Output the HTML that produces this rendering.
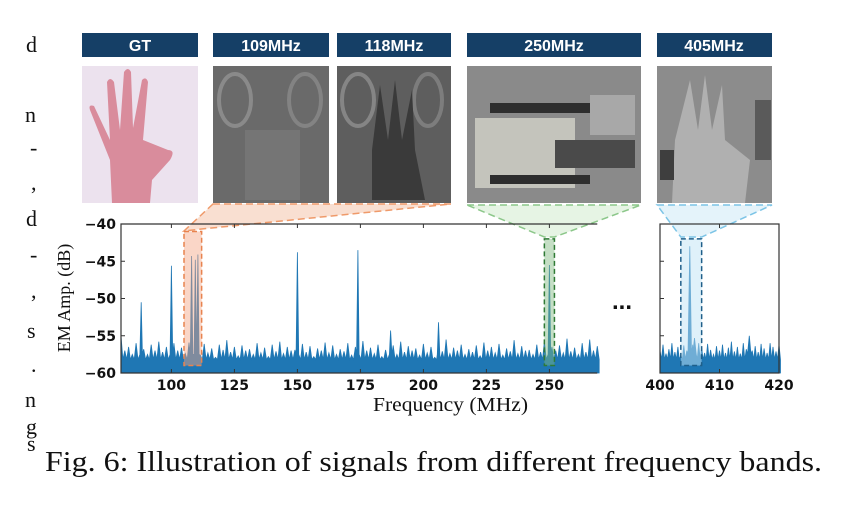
<!DOCTYPE html>
<html><head><meta charset="utf-8"><style>
body{margin:0;background:#fff;}
svg{display:block;}
.tk{font-family:"DejaVu Sans","Liberation Sans",sans-serif;font-weight:bold;font-size:14px;fill:#111;}
.sf{font-family:"Liberation Serif",serif;fill:#111;}
.hd{font-family:"Liberation Sans",sans-serif;font-weight:bold;font-size:16px;fill:#fff;}
</style></head><body>
<svg id="fig" width="852" height="509" viewBox="0 0 852 509" xmlns="http://www.w3.org/2000/svg">
<g class="sf" font-size="22">
<text x="26" y="52">d</text><text x="25" y="122">n</text><text x="30" y="155">-</text><text x="31" y="190">,</text>
<text x="26" y="226">d</text><text x="30" y="262">-</text><text x="31" y="298">,</text><text x="27" y="338">s</text>
<text x="31" y="372">.</text><text x="25" y="407">n</text><text x="26" y="434">g</text><text x="27" y="451">s</text>
</g>
<g>
<rect x="82" y="33" width="116" height="24" fill="#153f66"/><text class="hd" x="140" y="51" text-anchor="middle">GT</text>
<rect x="213" y="33" width="116" height="24" fill="#153f66"/><text class="hd" x="271" y="51" text-anchor="middle">109MHz</text>
<rect x="337" y="33" width="114" height="24" fill="#153f66"/><text class="hd" x="394" y="51" text-anchor="middle">118MHz</text>
<rect x="467" y="33" width="174" height="24" fill="#153f66"/><text class="hd" x="554" y="51" text-anchor="middle">250MHz</text>
<rect x="657" y="33" width="115" height="24" fill="#153f66"/><text class="hd" x="714" y="51" text-anchor="middle">405MHz</text>
</g>
<g>
<rect x="82" y="66" width="116" height="137" fill="#ece2ee"/>
<path d="M112 203 L110 160 L90 110 Q88 104 94 106 L110 140 L107 82 Q110 76 114 82 L120 130 L124 72 Q128 66 131 72 L133 128 L142 80 Q146 76 148 82 L143 140 L168 150 Q176 150 170 160 L152 180 L150 203Z" fill="#d98c9c"/>
</g>
<g>
<rect x="213" y="66" width="116" height="137" fill="#6a6a6a"/>
<ellipse cx="235" cy="100" rx="16" ry="26" fill="none" stroke="#8a8a8a" stroke-width="4"/>
<ellipse cx="305" cy="100" rx="16" ry="26" fill="none" stroke="#838383" stroke-width="4"/>
<rect x="245" y="130" width="55" height="70" fill="#757575"/>
</g>
<g>
<rect x="337" y="66" width="114" height="137" fill="#5e5e5e"/>
<ellipse cx="358" cy="100" rx="16" ry="26" fill="none" stroke="#858585" stroke-width="4"/>
<ellipse cx="428" cy="100" rx="14" ry="26" fill="none" stroke="#7d7d7d" stroke-width="4"/>
<path d="M372 200 L372 150 L380 85 L388 140 L395 80 L402 140 L412 90 L415 150 L425 200Z" fill="#3a3a3a"/>
</g>
<g>
<rect x="467" y="66" width="174" height="137" fill="#8a8a8a"/>
<rect x="475" y="118" width="100" height="70" fill="#c4c4bc"/>
<rect x="490" y="103" width="100" height="10" fill="#2e2e2e"/>
<rect x="490" y="175" width="100" height="9" fill="#2e2e2e"/>
<rect x="555" y="140" width="80" height="28" fill="#4a4a4a"/>
<rect x="590" y="95" width="45" height="40" fill="#a8a8a8"/>
</g>
<g>
<rect x="657" y="66" width="115" height="137" fill="#8c8c8c"/>
<path d="M672 203 L675 140 L690 80 L698 130 L705 75 L712 130 L722 85 L725 140 L750 160 L745 203Z" fill="#b0b0b0"/>
<rect x="660" y="150" width="14" height="30" fill="#3e3e3e"/>
<rect x="755" y="100" width="16" height="60" fill="#5a5a5a"/>
</g>
<g id="plot"></g>
<text class="sf" font-size="18" transform="translate(70,298) rotate(-90)" text-anchor="middle">EM Amp. (dB)</text>
<text class="sf" font-size="20" x="373" y="411" textLength="155" lengthAdjust="spacingAndGlyphs">Frequency (MHz)</text>
<text x="612" y="309" font-family="Liberation Sans" font-weight="bold" font-size="24" fill="#111">...</text>
<text class="sf" font-size="29" x="45" y="471" textLength="777" lengthAdjust="spacingAndGlyphs">Fig. 6: Illustration of signals from different frequency bands.</text>
</svg>
<script>
const noise1=[-55,-57,-56.5,-57.5,-56,-57,-56.8,-57.5,-56.2,-57,-55.8,-57.2,-56.5,-57.8,-56,-57,-56.6,-57.4,-55.9,-57.1,
-56.4,-57.6,-56.1,-57.3,-56.7,-57.9,-56.2,-56.9,-55.6,-57.2,-56.5,-57.7,-56.3,-57,-56.8,-57.5,-56,-57.3,-56.6,-57.8,
-56.2,-57.1,-55.8,-57.4,-56.5,-57,-56.9,-57.6,-56.1,-57.2,-56.4,-57.8,-56.7,-57,-55.9,-57.3,-56.3,-57.5,-56.8,-57.1,
-56,-57.6,-56.5,-57.2,-55.7,-57,-56.6,-57.4,-56.2,-57.8,-56.9,-57.1,-56.3,-57.5,-55.8,-57.2,-56.4,-57,-56.7,-57.6,
-56.1,-57.3,-56.5,-57.9,-56,-57.1,-55.5,-57.4,-56.6,-57,-56.2,-57.5,-56.8,-57.2,-56.3,-57.7,-55.9,-57,-56.5,-57.3,
-56.1,-57.6,-56.7,-57.1,-55.6,-57.4,-56.4,-57,-56.9,-57.5,-56.2,-57.2,-55.8,-57.6,-56.5,-57,-56.3,-57.3,-55.4,-57.1,
-56.6,-57.5,-56,-57.2,-55.5,-57,-56.4];
const peakFreq1=[88,100,108,109.5,110.5,150,174,187,206,250];
const peakAmp1=[-50.5,-45.6,-44.3,-44.8,-44.1,-43.8,-43.5,-54.3,-53.2,-45.5];
const noise2=[-57,-56.2,-57.4,-56.8,-56,-57.2,-56.5,-57.6,-56.3,-57,-56.8,-56.2,-57.1,-56,-56.6,-57.3,-56.1,-56.9,-57.5,-56.4,-57,-56.2,-57.3,-56.6,-55.8,-57.1,-56.5,-57.4,-56,-56.8,-55.2,-57,-56.4,-57.2,-56.1,-56.7,-57.3,-56,-56.5,-57.1,-56.2];
const peakFreq2=[405,405.8,415];
const peakAmp2=[-43,-55.3,-55];
const xTicks1=[100,125,150,175,200,225,250];
const xTicks2=[400,410,420];
const yTicks=[-40,-45,-50,-55,-60];

const NS='http://www.w3.org/2000/svg';
const plot=document.getElementById('plot');
const x1=f=>121+(f-80)*2.52;
const x2=f=>660+(f-400)*5.95;
const y=d=>224+(-40-d)*7.45;
function mk(tag,at,parent){const e=document.createElementNS(NS,tag);for(const k in at)e.setAttribute(k,at[k]);(parent||plot).appendChild(e);return e;}

function areaPath(noise,f0,step,pf,pa,xf,pw){
  let pts=[];
  noise.forEach((v,i)=>{const f=f0+i*step;pts.push([f,v]);pts.push([f+step*0.5,-58.2]);});
  pf.forEach((f,i)=>{pts=pts.filter(p=>Math.abs(p[0]-f)>pw);pts.push([f-pw,-57.5]);pts.push([f,pa[i]]);pts.push([f+pw,-57.5]);});
  pts.sort((a,b)=>a[0]-b[0]);
  let d='M'+xf(pts[0][0])+','+y(-60);
  pts.forEach(p=>{d+=' L'+xf(p[0]).toFixed(1)+','+y(p[1]).toFixed(1);});
  d+=' L'+xf(pts[pts.length-1][0])+','+y(-60)+'Z';
  return d;
}
let e;
e=mk('polygon',{points:`213,204 451,204 ${x1(112)},229 ${x1(105)},231`,fill:'#f6d2bd','fill-opacity':'0.7',stroke:'#ef9a6a','stroke-dasharray':'7,4','stroke-width':'1.5'});


e=mk('polygon',{points:`467,205 641,205 ${x1(252)},237 ${x1(248)},237`,fill:'#dcefd8','fill-opacity':'0.7',stroke:'#8cc78a','stroke-dasharray':'7,4','stroke-width':'1.5'});


e=mk('polygon',{points:`657,205 772,205 ${x2(407)},237 ${x2(403.5)},237`,fill:'#d8eef8','fill-opacity':'0.7',stroke:'#7cc4e6','stroke-dasharray':'7,4','stroke-width':'1.5'});



e=mk('path',{d:areaPath(noise1,80,1.5,peakFreq1,peakAmp1,x1,0.5),fill:'#1f77b4',stroke:'#1f77b4','stroke-width':'0.8'});


e=mk('path',{d:areaPath(noise2,400,0.5,peakFreq2,peakAmp2,x2,0.3),fill:'#1f77b4',stroke:'#1f77b4','stroke-width':'0.8'});



e=mk('rect',{x:x1(105),y:y(-41),width:x1(112)-x1(105),height:y(-59)-y(-41),fill:'#f4a582','fill-opacity':'0.45',stroke:'#e8834f','stroke-dasharray':'5,3','stroke-width':'1.5'});


e=mk('rect',{x:x1(248),y:y(-42),width:x1(252)-x1(248),height:y(-59)-y(-42),fill:'#7fb77e','fill-opacity':'0.45',stroke:'#2f7a35','stroke-dasharray':'5,3','stroke-width':'1.5'});


e=mk('rect',{x:x2(403.5),y:y(-42),width:x2(407)-x2(403.5),height:y(-59)-y(-42),fill:'#bfe3f5','fill-opacity':'0.5',stroke:'#1f5f8a','stroke-dasharray':'5,3','stroke-width':'1.5'});



e=mk('path',{d:`M${x1(269)},${y(-40)} H121 V${y(-60)} H${x1(269)}`,fill:'none',stroke:'#333','stroke-width':'1.2'});


e=mk('rect',{x:660,y:y(-40),width:x2(420)-660,height:y(-60)-y(-40),fill:'none',stroke:'#333','stroke-width':'1.2'});



yTicks.forEach(v=>{
  mk('line',{x1:121,x2:125,y1:y(v),y2:y(v),stroke:'#333'});
  mk('line',{x1:660,x2:664,y1:y(v),y2:y(v),stroke:'#333'});
  const t=mk('text',{x:116,y:y(v)+5,'text-anchor':'end',class:'tk'});
  t.textContent=(v<0?'\u2212':'')+Math.abs(v);
  
  
});
xTicks1.forEach(v=>{
  mk('line',{x1:x1(v),x2:x1(v),y1:y(-60),y2:y(-60)-4,stroke:'#333'});
  mk('line',{x1:x1(v),x2:x1(v),y1:y(-40),y2:y(-40)+4,stroke:'#333'});
  const t=mk('text',{x:x1(v),y:y(-60)+17,'text-anchor':'middle',class:'tk'});
  t.textContent=v;
  
  
});
xTicks2.forEach(v=>{
  mk('line',{x1:x2(v),x2:x2(v),y1:y(-60),y2:y(-60)-4,stroke:'#333'});
  mk('line',{x1:x2(v),x2:x2(v),y1:y(-40),y2:y(-40)+4,stroke:'#333'});
  const t=mk('text',{x:x2(v),y:y(-60)+17,'text-anchor':'middle',class:'tk'});
  t.textContent=v;
  
  
});
</script>
</body></html>
